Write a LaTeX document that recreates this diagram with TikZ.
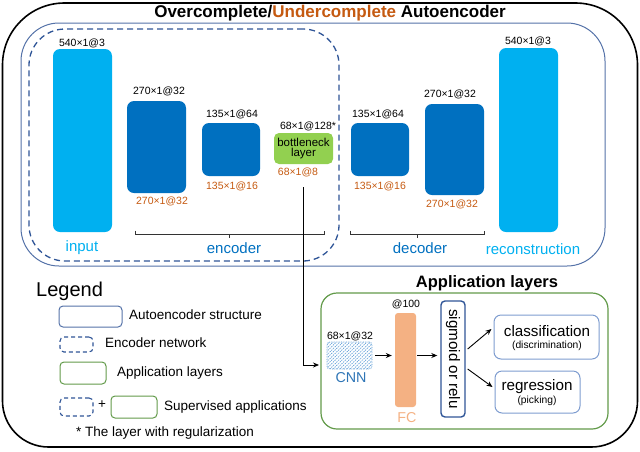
\documentclass[tikz,border=0pt]{standalone}
\usepackage{fontspec}
\setmainfont{Liberation Sans}
\usetikzlibrary{calc,patterns.meta,arrows.meta}
\definecolor{lightB}{HTML}{00B0F0}
\definecolor{darkB}{HTML}{0070C0}
\definecolor{orangeT}{HTML}{C55A11}
\definecolor{bnGreen}{HTML}{92D050}
\definecolor{aeBorder}{HTML}{5472A8}
\definecolor{dashB}{HTML}{2F5597}
\definecolor{appGreen}{HTML}{629A4A}
\definecolor{fcSalmon}{HTML}{F4B183}
\definecolor{outBlue}{HTML}{7E9CCF}
\definecolor{cnnHatch}{HTML}{5B9BD5}
\definecolor{cnnText}{HTML}{2E75B6}
\newcommand\fsz[1]{\fontsize{#1}{#1}\selectfont}
\begin{document}
\begin{tikzpicture}[x=1pt,y=-1pt,
  bar/.style={rounded corners=7pt, inner sep=0pt, draw=none},
  lbl/.style={inner sep=0pt, font=\fsz{10.5}},
  olbl/.style={lbl, text=orangeT},
  big/.style={inner sep=0pt, font=\fsz{15}},
  leg/.style={inner sep=0pt, anchor=west, font=\fsz{13.5}},
  arr/.style={-{Stealth[length=6pt,width=5pt]}, line width=0.9pt},
  brk/.style={line width=0.8pt, black!80},
  aebox/.style={draw=aeBorder, line width=1pt},
  encbox/.style={draw=dashB, line width=1.3pt, dash pattern=on 6pt off 4pt},
  appbox/.style={draw=appGreen, line width=1.2pt},
  outbox/.style={draw=outBlue, line width=1pt, rounded corners=7pt, inner sep=0pt}
]
\useasboundingbox (0,0) rectangle (640,451);

% outer frame (larger top corners than bottom corners)
\coordinate (oL) at (2.5,225);
\coordinate (oT) at (320,3);
\coordinate (oR) at (637.5,225);
\coordinate (oB) at (320,447);
\draw[line width=1.6pt] (oL) [rounded corners=62pt] |- (oT) -| (oR) [rounded corners=46pt] |- (oB) -| (oL) -- cycle;

% containers
\node[aebox, rounded corners=38pt, minimum width=584, minimum height=243] (ae) at (313,144.5) {};
\node[encbox, rounded corners=36pt, minimum width=310, minimum height=232] (enc) at (184,145) {};
\node[appbox, rounded corners=16pt, minimum width=287, minimum height=136] (app) at (464.5,361) {};

% titles
\node[inner sep=0pt, font=\bfseries\fsz{17}] (title) at (330,13) {Overcomplete/\textcolor{orangeT}{Undercomplete} Autoencoder};
\node[inner sep=0pt, font=\bfseries\fsz{16.5}] (apptitle) at (487,283) {Application layers};

% bars
\node[bar, fill=lightB, minimum width=59, minimum height=183] (in) at (82.5,140.5) {};
\node[bar, fill=darkB, minimum width=59, minimum height=92] (e1) at (156.5,147) {};
\node[bar, fill=darkB, minimum width=58, minimum height=53] (e2) at (231,149.5) {};
\node[bar, fill=bnGreen, rounded corners=5pt, minimum width=59, minimum height=31, align=center, font=\fsz{11.5}] (bn) at (303.5,148.5) {bottleneck\\[-1pt]layer};
\node[bar, fill=darkB, minimum width=58, minimum height=53] (d1) at (380,149.5) {};
\node[bar, fill=darkB, minimum width=59, minimum height=91] (d2) at (454.5,149.5) {};
\node[bar, fill=lightB, minimum width=59, minimum height=184] (out) at (528.5,140) {};

% labels above
\node[lbl] (inL) at (82,43) {540×1@3};
\node[lbl] (e1L) at (159,91) {270×1@32};
\node[lbl] (e2L) at (232,114) {135×1@64};
\node[lbl] (bnL) at (308,126) {68×1@128*};
\node[lbl] (d1L) at (378,114) {135×1@64};
\node[lbl] (d2L) at (450,94) {270×1@32};
\node[lbl] (outL) at (528,41) {540×1@3};
% labels below (orange)
\node[olbl] (e1O) at (162,201) {270×1@32};
\node[olbl] (e2O) at (232,186) {135×1@16};
\node[olbl] (bnO) at (298,172) {68×1@8};
\node[olbl] (d1O) at (380,186) {135×1@16};
\node[olbl] (d2O) at (452,204) {270×1@32};

% brackets
\draw[brk] (135,230.5) -- (135,234) -- (324,234) -- (324,230.5);
\draw[brk] (229,234) -- (229,238);
\draw[brk] (350,230.5) -- (350,234) -- (484,234) -- (484,230.5);
\draw[brk] (417,234) -- (417,238);

\node[big, text=lightB] (inT) at (82,248) {input};
\node[big, text=darkB] (encT) at (234,248) {encoder};
\node[big, text=darkB] (decT) at (420,248) {decoder};
\node[big, text=lightB] (outT) at (533,249) {reconstruction};

% path to application
\coordinate (vstart) at (303,187);
\coordinate (appin) at (319,365);
\draw[arr, line width=0.8pt] (vstart) |- (appin);

% application layers
\node[lbl] (cnnL) at (350,336) {68×1@32};
\node[draw=cnnHatch, densely dotted, line width=0.8pt, rounded corners=3pt, pattern={Lines[angle=45,distance=2.4pt,line width=0.7pt]}, pattern color=cnnHatch, minimum width=45, minimum height=27, inner sep=0pt] (cnn) at (349.5,355.5) {};
\node[inner sep=0pt, text=cnnText, font=\fsz{14.3}] (cnnT) at (351,378) {CNN};
\node[lbl] (fcL) at (406,304) {@100};
\node[bar, fill=fcSalmon, rounded corners=3pt, minimum width=21, minimum height=94] (fc) at (405.5,360) {};
\node[inner sep=0pt, text=fcSalmon, font=\fsz{14.3}] (fcT) at (407,418) {FC};
\node[draw=dashB, line width=1.4pt, rounded corners=4pt, minimum width=24, minimum height=116, inner sep=0pt] (sig) at (453,359) {};
\node[inner sep=0pt, rotate=-90, font=\fsz{15.2}] (sigT) at (sig.center) {sigmoid or relu};
\node[outbox, minimum width=105, minimum height=44] (cls) at (546.5,337) {};
\node[inner sep=0pt, font=\fsz{15.2}] (clsT) at (547,331) {classification};
\node[inner sep=0pt, font=\fsz{10.3}] (clsS) at (547,346) {(discrimination)};
\node[outbox, minimum width=85, minimum height=42] (reg) at (537.5,392) {};
\node[inner sep=0pt, font=\fsz{15.2}] (regT) at (537,387) {regression};
\node[inner sep=0pt, font=\fsz{10.3}] (regS) at (537,401) {(picking)};

\draw[arr] ($(cnn.east)+(3,0)$) -- ($(cnn.east -| fc.west)+(-3,0)$);
\draw[arr] ($(fc.east |- cnn.east)+(1,0)$) -- ($(sig.west |- cnn.east)+(-3,0)$);
\draw[arr] ($(sig.east)+(2,-10)$) -- ($(cls.west)+(-2,-8)$);
\draw[arr] ($(sig.east)+(2,10)$) -- ($(reg.west)+(-2,-5)$);

% legend
\node[inner sep=0pt, anchor=west, font=\fsz{20}] (legT) at (36,291) {Legend};
\node[draw=aeBorder, line width=1pt, rounded corners=4pt, minimum width=63, minimum height=21, inner sep=0pt] (lg1) at (90.5,316.5) {};
\node[leg] (lg1T) at (129,315) {Autoencoder structure};
\node[encbox, line width=1.1pt, dash pattern=on 4pt off 3pt, rounded corners=4pt, minimum width=33, minimum height=15, inner sep=0pt] (lg2) at (76.5,344.5) {};
\node[leg] (lg2T) at (105,343) {Encoder network};
\node[appbox, line width=1pt, rounded corners=4pt, minimum width=46, minimum height=22, inner sep=0pt] (lg3) at (83,373) {};
\node[leg] (lg3T) at (117,373) {Application layers};
\node[encbox, line width=1.1pt, dash pattern=on 4pt off 3pt, rounded corners=4pt, minimum width=33, minimum height=18, inner sep=0pt] (lg4) at (76.5,407) {};
\node[inner sep=0pt, font=\fsz{13.5}] (plus) at (102,405) {+};
\node[appbox, line width=1pt, rounded corners=4pt, minimum width=46, minimum height=22, inner sep=0pt] (lg5) at (134,407) {};
\node[leg] (lg5T) at (164,407) {Supervised applications};
\node[leg] (noteT) at (76,433) {* The layer with regularization};
\end{tikzpicture}
\end{document}
